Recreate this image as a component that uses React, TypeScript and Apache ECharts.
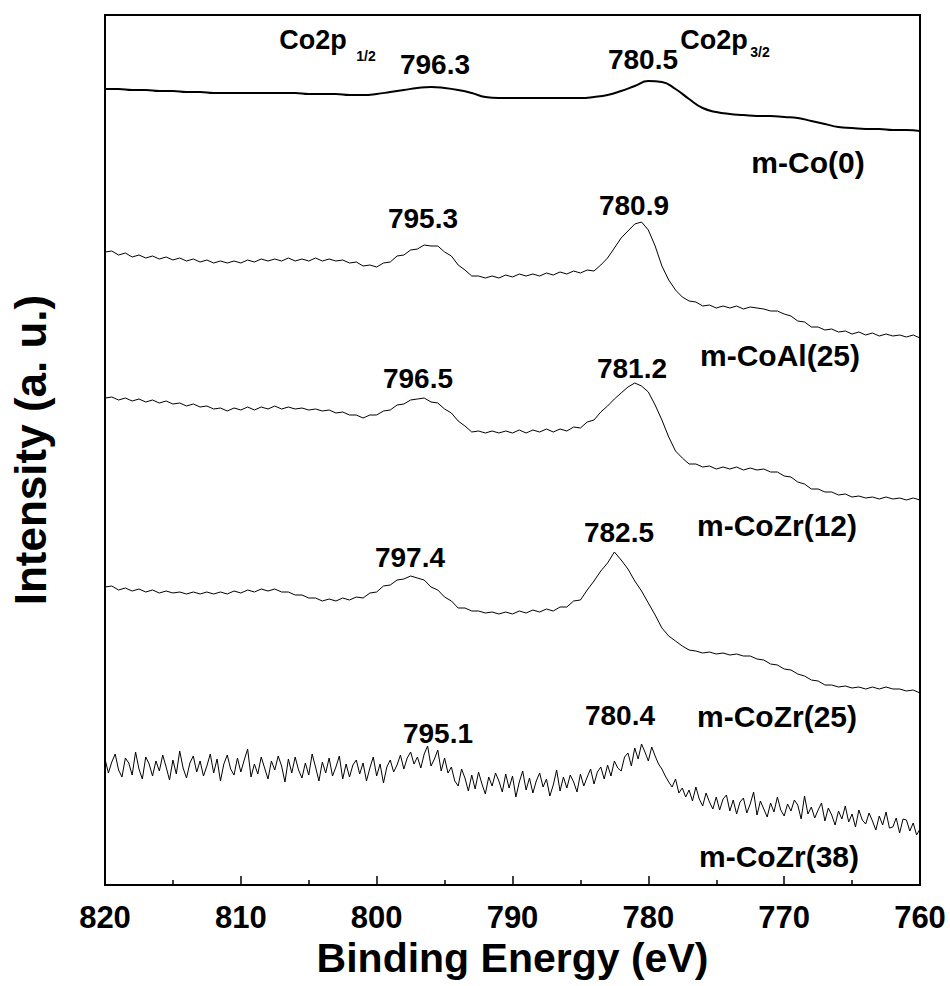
import React, { useEffect, useRef } from "react";
import * as echarts from "echarts";

// Binding energy sampling grids (eV)
const grid = (start: number, end: number, step: number) => {
  const out: number[] = [];
  for (let e = start; e >= end - 1e-9; e -= step) out.push(Math.round(e * 100) / 100);
  return out;
};
const energy1 = grid(820, 760, 1);
const energy05 = grid(820, 760, 0.5);
const energy025 = grid(820, 760, 0.25);

// m-Co(0) (offset intensity, a.u.)
const coZero = [796,796,795,795,794,794,793,793,792,792,792,792,792,792,792,791,791,791,790,790,791,793,795,797,798,797,795,792,788,787,787,787,787,787,787,787,788,790,794,799,804,803,796,786,777,773,771,770,769,769,768,767,764,761,758,757,756,756,755,755,754];

// m-CoAl(25)
const coAl25 = [633,634,630,632,628,630,627,629,626,628,625,627,624,626,623,625,622,624,622,624,622,625,623,626,624,626,624,627,624,626,624,627,624,626,624,625,622,623,619,620,618,622,623,629,630,635,636,640,639,639,633,629,620,615,609,609,607,609,607,610,608,611,609,611,609,612,610,613,611,614,612,615,614,620,627,637,647,654,661,663,655,639,619,605,595,588,584,583,579,580,577,579,577,579,576,578,577,576,574,574,571,569,564,563,558,558,555,556,553,554,551,553,550,552,549,551,549,550,548,550,547];

// m-CoZr(12)
const coZr12 = [487,488,485,487,484,486,483,485,482,484,481,482,479,481,478,479,476,477,474,477,475,478,475,478,476,479,476,478,476,477,475,476,474,475,472,473,470,470,467,470,470,474,475,480,481,485,486,487,483,482,476,472,464,459,453,454,452,454,452,454,452,455,452,455,453,456,453,456,454,458,457,463,465,473,479,486,492,498,502,499,493,480,465,448,434,427,421,421,418,419,416,418,416,418,415,417,415,416,413,413,409,408,403,401,396,396,393,393,390,391,388,389,387,388,386,388,386,387,385,387,385];

// m-CoZr(25)
const coZr25 = [298,299,295,297,294,296,293,295,292,294,292,293,291,293,291,293,291,293,291,294,292,295,293,296,294,296,293,293,290,290,287,287,284,286,284,287,285,288,287,292,293,299,300,305,306,309,307,305,298,295,288,284,277,277,274,274,272,273,271,273,271,274,272,275,273,276,274,278,278,284,285,295,304,314,322,333,325,316,304,294,282,270,257,249,244,239,235,234,232,233,231,232,230,231,229,229,226,225,221,220,216,215,211,209,205,204,200,200,198,199,197,198,196,198,196,198,196,196,194,195,192];

// m-CoZr(38)
const coZr38 = [
  126,112,123,131, 115,108,127,122, 110,133,116,106, 128,121,109,124,
  114,130,118,105, 125,111,134,117, 107,122,129,113, 124,109,119,131,
  112,126,104,121, 130,116,110,127, 113,125,136,108, 121,111,128,117,
  106,124,115,129, 119,103,126,112, 128,115,107,122, 110,131,118,104,
  123,112,127,109, 118,129,106,121, 108,120,125,111, 122,104,117,128,
  109,121,102,118, 125,113,120,130, 116,127,133,121, 128,117,131,139,
  119,126,135,114, 127,112,118,104, 99,116,107,94, 110,96,113,101,
  91,108,99,112, 104,93,111,97, 109,88,103,114, 95,107,92,104,
  112,98,106,89, 100,115,94,108, 97,110,103,93, 111,99,108,116,
  101,113,118,106, 120,109,124,117, 114,128,132,119, 137,126,141,133,
  124,138,129,121, 116,109,103,98, 106,92,97,88, 95,84,98,86,
  79,92,83,76, 88,75,86,90, 74,85,71,83, 87,72,81,93,
  70,84,76,68, 82,73,88,75, 69,81,74,85, 80,66,89,71,
  78,67,75,82, 64,77,70,60, 74,66,79,63, 71,58,75,65,
  61,72,64,55, 69,60,73,57, 58,67,52,66, 65,54,62,50,
  56,
];

const xTicks = [820, 810, 800, 790, 780, 770, 760];

const annotations = [
  { text: "Co2p", x: 313, y: 40, size: 27 },
  { text: "1/2", x: 366, y: 56, size: 14 },
  { text: "796.3", x: 435, y: 64, size: 28 },
  { text: "780.5", x: 643, y: 59, size: 28 },
  { text: "Co2p", x: 714, y: 40, size: 27 },
  { text: "3/2", x: 760, y: 52, size: 14 },
  { text: "m-Co(0)", x: 808, y: 162, size: 30 },
  { text: "795.3", x: 423, y: 218, size: 28 },
  { text: "780.9", x: 634, y: 205, size: 28 },
  { text: "m-CoAl(25)", x: 780, y: 355, size: 30 },
  { text: "796.5", x: 418, y: 378, size: 28 },
  { text: "781.2", x: 632, y: 368, size: 28 },
  { text: "m-CoZr(12)", x: 777, y: 525, size: 30 },
  { text: "797.4", x: 410, y: 557, size: 28 },
  { text: "782.5", x: 619, y: 532, size: 28 },
  { text: "m-CoZr(25)", x: 777, y: 716, size: 30 },
  { text: "795.1", x: 438, y: 733, size: 28 },
  { text: "780.4", x: 620, y: 715, size: 28 },
  { text: "m-CoZr(38)", x: 779, y: 856, size: 30 },
];

const FONT = "'Liberation Sans', Arial, Helvetica, sans-serif";

const zip = (xs: number[], ys: number[]) => ys.map((v, i) => [xs[i], v]);

export default function App() {
  const ref = useRef<HTMLDivElement>(null);
  useEffect(() => {
    if (!ref.current) return;
    const chart = echarts.init(ref.current, undefined, { renderer: "svg" });
    const lineSeries = (name: string, data: number[][], width: number, smooth = false) => ({
      name,
      type: "line",
      data,
      showSymbol: false,
      smooth,
      lineStyle: { color: "#000", width },
      itemStyle: { color: "#000" },
      silent: true,
    });
    chart.setOption({
      animation: false,
      backgroundColor: "#fff",
      grid: {
        left: 101,
        right: 30,
        top: 15,
        bottom: 101,
        show: true,
        borderColor: "#000",
        borderWidth: 2,
      },
      xAxis: {
        type: "value",
        min: 760,
        max: 820,
        interval: 10,
        inverse: true,
        name: "Binding Energy (eV)",
        nameLocation: "middle",
        nameGap: 50,
        nameTextStyle: { fontFamily: FONT, fontWeight: "bold", fontSize: 41, color: "#000" },
        axisLine: { show: true, lineStyle: { color: "#000", width: 2 } },
        axisTick: { show: true, inside: true, length: 9, lineStyle: { color: "#000", width: 1.5 } },
        minorTick: { show: true, splitNumber: 2, length: 5, lineStyle: { color: "#000", width: 1.5 } },
        axisLabel: {
          margin: 17,
          fontFamily: FONT,
          fontWeight: "bold",
          fontSize: 31,
          color: "#000",
          formatter: (v: number) => (xTicks.includes(v) ? String(v) : ""),
        },
        splitLine: { show: false },
      },
      yAxis: {
        type: "value",
        min: 0,
        max: 870,
        name: "Intensity (a. u.)",
        nameLocation: "middle",
        nameGap: 53,
        nameTextStyle: { fontFamily: FONT, fontWeight: "bold", fontSize: 44, color: "#000" },
        axisLine: { show: true, lineStyle: { color: "#000", width: 2 } },
        axisTick: { show: false },
        axisLabel: { show: false },
        splitLine: { show: false },
      },
      series: [
        lineSeries("m-Co(0)", zip(energy1, coZero), 2, true),
        lineSeries("m-CoAl(25)", zip(energy05, coAl25), 1),
        lineSeries("m-CoZr(12)", zip(energy05, coZr12), 1),
        lineSeries("m-CoZr(25)", zip(energy05, coZr25), 1),
        lineSeries("m-CoZr(38)", zip(energy025, coZr38), 1),
      ],
      graphic: annotations.map((a) => ({
        type: "text",
        x: a.x,
        y: a.y,
        silent: true,
        style: {
          text: a.text,
          fontFamily: FONT,
          fontWeight: "bold",
          fontSize: a.size,
          fill: "#000",
          align: "center",
          verticalAlign: "middle",
          textAlign: "center",
          textVerticalAlign: "middle",
        },
      })),
    });
    return () => chart.dispose();
  }, []);
  return (
    <div
      ref={ref}
      style={{ position: "absolute", left: 0, top: 0, width: 950, height: 986 }}
    />
  );
}
